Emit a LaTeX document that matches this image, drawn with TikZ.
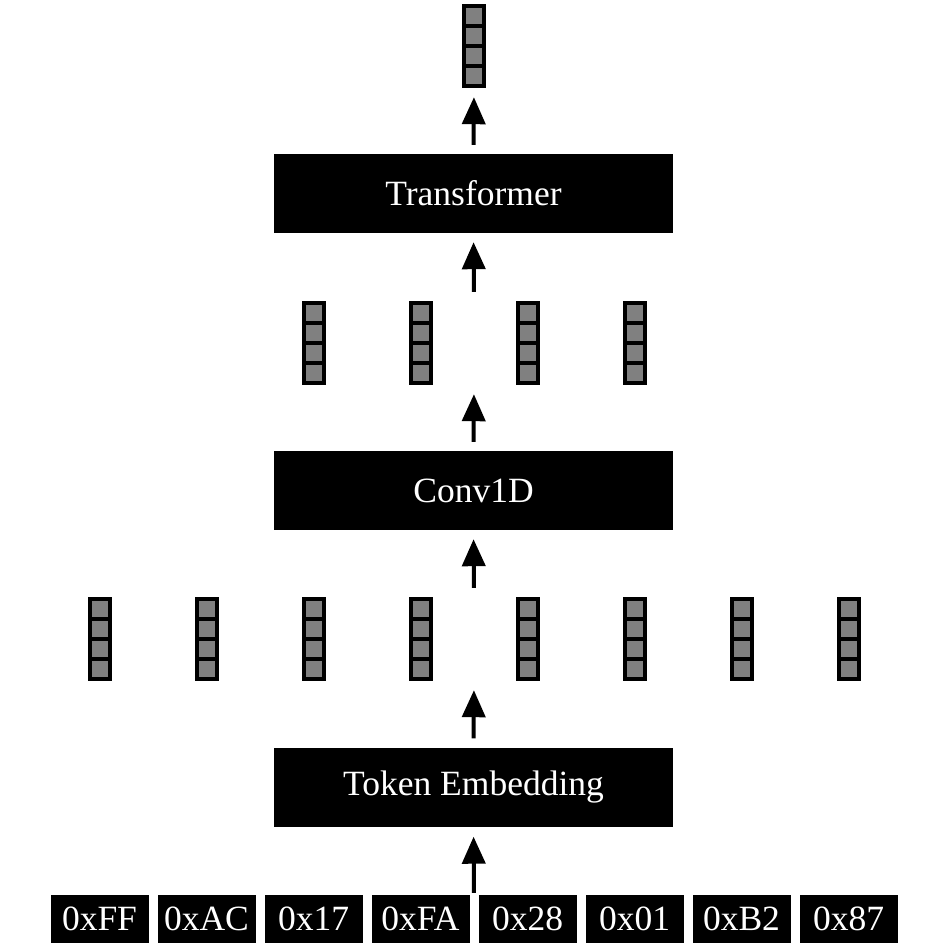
\documentclass[tikz,border=0pt]{standalone}
\usepackage{fontspec}
\setmainfont{Liberation Serif}
\usetikzlibrary{arrows.meta}
\definecolor{cellgray}{HTML}{808080}
\tikzset{
  x=1pt, y=1pt,
  blockbox/.style={fill=black, text=white, minimum width=399pt, minimum height=79pt, inner sep=0pt,
    font=\fontsize{35.5}{40}\selectfont},
  bytebox/.style={fill=black, text=white, minimum width=98pt, minimum height=48pt, inner sep=0pt,
    font=\fontsize{35.5}{40}\selectfont},
  rowbox/.style={minimum height=84pt, inner sep=0pt},
  cell/.style={draw=black, fill=cellgray, line width=4pt},
  arr/.style={line width=4pt, -{Triangle[length=27pt,width=23pt]}, shorten <=9pt, shorten >=9pt},
}
\newcommand\drawvec[2]{%
  \pgfmathsetmacro\vx{#1}%
  \foreach \k in {0,1,2,3} {\draw[cell] ({\vx-10},{#2-20*\k}) rectangle ({\vx+10},{#2-20*\k-20});}%
}
\begin{document}
\begin{tikzpicture}
\useasboundingbox (0,0) rectangle (948,-948);
% byte tokens
\foreach \t [count=\i from 0] in {0xFF,0xAC,0x17,0xFA,0x28,0x01,0xB2,0x87} {
  \node[bytebox] (b\i) at ({474+107*(\i-3.5)},-919) {\t};
}
\node[minimum width=850pt, minimum height=48pt, inner sep=0pt] (bytes) at (474,-919) {};
% blocks
\node[blockbox] (te) at (473.5,-787) {Token Embedding};
\node[blockbox] (conv) at (473.5,-490.5) {Conv1D};
\node[blockbox] (tr) at (473.5,-193.5) {Transformer};
% vector rows
\node[rowbox, minimum width=773pt] (row1) at (474,-639) {};
\node[rowbox, minimum width=345pt] (row2) at (474,-343) {};
\node[rowbox, minimum width=24pt] (row3) at (474,-46) {};
\foreach \i in {0,...,7} {\drawvec{474+107*(\i-3.5)}{-599}}
\foreach \i in {0,...,3} {\drawvec{474+107*(\i-1.5)}{-303}}
\drawvec{474}{-6}
% arrows
\draw[arr, shorten <=2pt, shorten >=10pt] (bytes.north) -- (te.south);
\draw[arr] (te.north) -- (row1.south);
\draw[arr] (row1.north) -- (conv.south);
\draw[arr] (conv.north) -- (row2.south);
\draw[arr] (row2.north) -- (tr.south);
\draw[arr] (tr.north) -- (row3.south);
\end{tikzpicture}
\end{document}
